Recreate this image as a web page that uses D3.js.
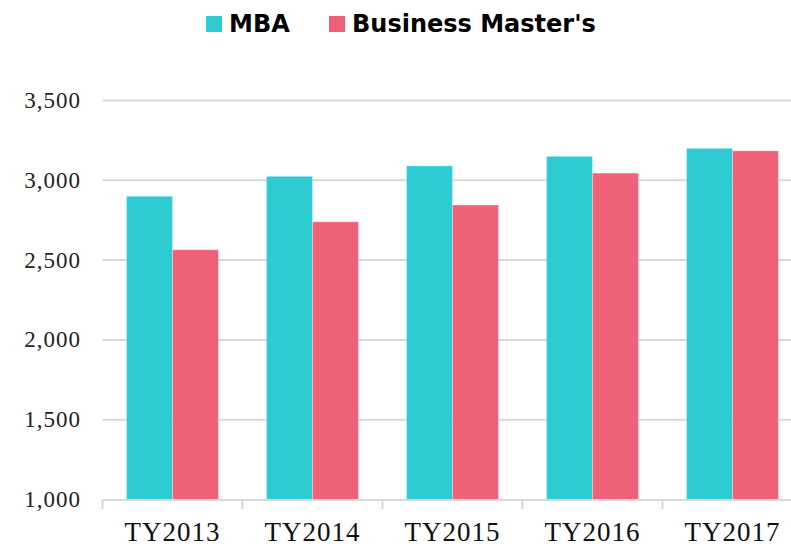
<!DOCTYPE html>
<html>
<head>
<meta charset="utf-8">
<script src="https://cdn.jsdelivr.net/npm/d3@7"></script>
<style>
  body { margin: 0; background: #fff; }
  svg { display: block; }
</style>
</head>
<body>
<div id="chart"></div>
<script>
// data
const years = ['TY2013', 'TY2014', 'TY2015', 'TY2016', 'TY2017'];
const series = ['MBA', "Business Master's"];
const mba = [2900, 3025, 3090, 3150, 3200];
const businessMasters = [2565, 2740, 2845, 3045, 3185];
const yTicks = [1000, 1500, 2000, 2500, 3000, 3500];
const colors = ['#2ecbd3', '#ef6179'];

const W = 791, H = 550;
const plotLeft = 102.5, plotBottom = 499.5, plotTop = 100.5;
const serif = '"Liberation Serif", "DejaVu Serif", serif';

const svg = d3.select('#chart').append('svg')
    .attr('width', W)
    .attr('height', H);

const x0 = d3.scaleBand().domain(years).range([plotLeft, plotLeft + 700]).padding(0);
const x1 = d3.scaleBand().domain(series).range([0, x0.bandwidth()])
    .paddingInner(0).paddingOuter(0.522);
const y = d3.scaleLinear().domain([1000, 3500]).range([plotBottom, plotTop]);
const color = d3.scaleOrdinal().domain(series).range(colors);

// gridlines
svg.append('g').selectAll('line')
    .data(yTicks.slice(1))
    .enter().append('line')
    .attr('x1', plotLeft).attr('x2', W)
    .attr('y1', d => y(d)).attr('y2', d => y(d))
    .attr('stroke', '#d9d9d9')
    .attr('stroke-width', 2);

// y axis labels
const yAxis = svg.append('g')
    .attr('transform', `translate(${plotLeft - 0.5},0)`)
    .call(d3.axisLeft(y).tickValues(yTicks).tickSize(0).tickPadding(21)
        .tickFormat(d3.format(',')));
yAxis.select('.domain').remove();
yAxis.selectAll('text')
    .attr('font-family', serif)
    .attr('font-size', 23)
    .attr('letter-spacing', 1)
    .attr('dy', '0.3em')
    .attr('fill', '#222');

// bars
const rows = years.map((yr, i) => ({ year: yr, values: [mba[i], businessMasters[i]] }));
const groups = svg.append('g').selectAll('g')
    .data(rows)
    .enter().append('g')
    .attr('transform', d => `translate(${x0(d.year)},0)`);

groups.selectAll('rect')
    .data(d => d.values.map((v, j) => ({ key: series[j], value: v })))
    .enter().append('rect')
    .attr('x', d => x1(d.key))
    .attr('y', d => y(d.value))
    .attr('width', x1.bandwidth())
    .attr('height', d => y(1000) - y(d.value))
    .attr('fill', d => color(d.key))
    .attr('stroke', 'rgba(255,255,255,0.3)')
    .attr('stroke-width', 1);

// x axis
const xAxis = svg.append('g')
    .attr('transform', `translate(0,${plotBottom + 0.5})`)
    .call(d3.axisBottom(x0).tickSize(0).tickPadding(0));
xAxis.select('.domain')
    .attr('d', `M${plotLeft},0H${W}`)
    .attr('stroke', '#d9d9d9')
    .attr('stroke-width', 2);
xAxis.selectAll('text')
    .attr('y', 41)
    .attr('dy', 0)
    .attr('font-family', serif)
    .attr('font-size', 27)
    .attr('letter-spacing', 1)
    .attr('fill', '#111');
// boundary ticks between categories
xAxis.append('g').selectAll('line')
    .data(years)
    .enter().append('line')
    .attr('x1', d => x0(d)).attr('x2', d => x0(d))
    .attr('y1', 0).attr('y2', 9)
    .attr('stroke', '#d9d9d9')
    .attr('stroke-width', 2);

// legend
const legendX = [206, 329];
const legend = svg.append('g').selectAll('g')
    .data(series)
    .enter().append('g')
    .attr('transform', (d, i) => `translate(${legendX[i]},16)`);
legend.append('rect')
    .attr('width', 16).attr('height', 16)
    .attr('fill', d => color(d));
legend.append('text')
    .attr('x', 23).attr('y', 16)
    .attr('font-family', '"DejaVu Sans", sans-serif')
    .attr('font-weight', 'bold')
    .attr('font-size', 24)
    .attr('fill', '#000')
    .text(d => d);
</script>
</body>
</html>
